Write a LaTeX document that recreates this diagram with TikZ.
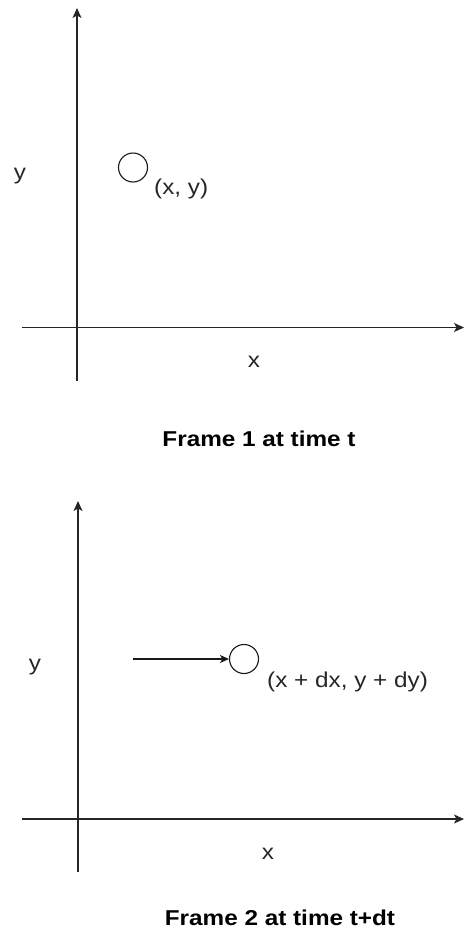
\documentclass[tikz,border=0pt]{standalone}
\usepackage{fontspec}
\setmainfont{Liberation Sans}
\usetikzlibrary{arrows.meta}
\newcommand{\wide}[1]{\scalebox{1.13}[1]{#1}}
\begin{document}
\begin{tikzpicture}[x=1pt,y=-1pt,
  axis/.style={line width=1.2pt,draw=black!85,-{Stealth[length=10pt,width=9pt,inset=2.5pt]}},
  mv/.style={line width=1.1pt,draw=black!90,-{Stealth[length=9pt,width=8pt,inset=2.5pt]}},
  dot/.style={circle,draw=black!90,line width=1.1pt,minimum size=29pt,inner sep=0pt},
  lbl/.style={font=\fontsize{21.5}{24}\selectfont,text=black!85,inner sep=0pt},
  ttl/.style={font=\bfseries\fontsize{21.5}{24}\selectfont,inner sep=0pt}]
\useasboundingbox (0,0) rectangle (464,929);
% Frame 1
\coordinate (y1b) at (77,381);
\coordinate (y1t) at (77,8);
\coordinate (x1l) at (22,327.5);
\coordinate (x1r) at (464,327.5);
\draw[axis] (y1b) -- (y1t);
\draw[axis] (x1l) -- (x1r);
\node[dot] (p1) at (133,167.5) {};
\node[lbl,anchor=west] (l1) at (154,189) {\wide{(x, y)}};
\node[lbl] (ylab1) at (20,176) {\wide{y}};
\node[lbl] (xlab1) at (254,362) {\wide{x}};
\node[ttl] (t1) at (259,439) {\wide{Frame 1 at time t}};
% Frame 2
\coordinate (y2b) at (78,872);
\coordinate (y2t) at (78,501);
\coordinate (x2l) at (22,819);
\coordinate (x2r) at (464,819);
\draw[axis] (y2b) -- (y2t);
\draw[axis] (x2l) -- (x2r);
\node[dot] (p2) at (244,659) {};
\coordinate (a2) at (133,659);
\draw[mv] (a2) -- (p2.west);
\node[lbl,anchor=west] (l2) at (267,682) {\wide{(x + dx, y + dy)}};
\node[lbl] (ylab2) at (35,667) {\wide{y}};
\node[lbl] (xlab2) at (268,854) {\wide{x}};
\node[ttl] (t2) at (280,918) {\wide{Frame 2 at time t+dt}};
\end{tikzpicture}
\end{document}
